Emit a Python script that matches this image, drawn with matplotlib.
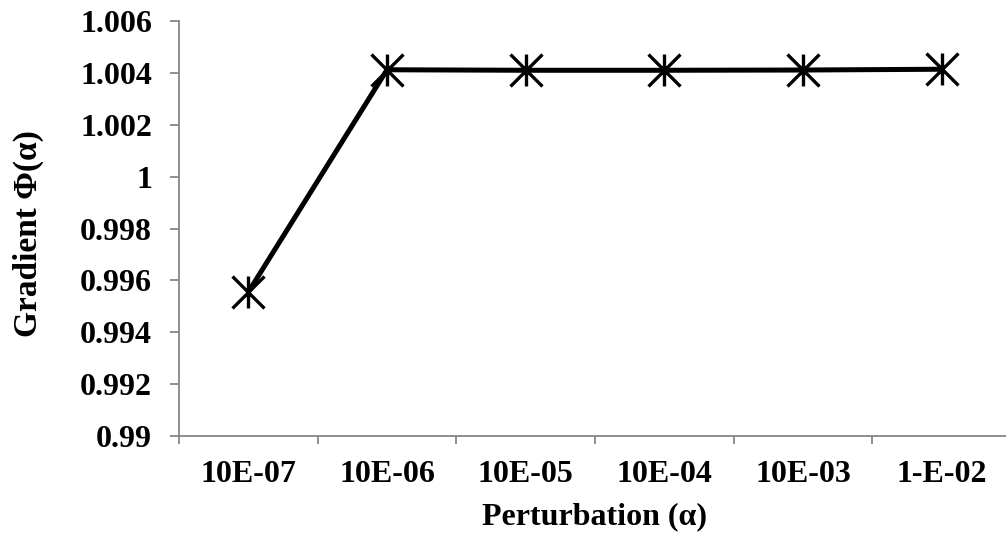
import matplotlib
matplotlib.use("Agg")
import matplotlib.pyplot as plt
from matplotlib.path import Path
from matplotlib.ticker import FixedLocator

# data
categories = ["10E-07", "10E-06", "10E-05", "10E-04", "10E-03", "1-E-02"]
gradient = [0.99555, 1.00412, 1.00410, 1.00410, 1.00411, 1.00414]
y_ticks = [0.99, 0.992, 0.994, 0.996, 0.998, 1.0, 1.002, 1.004, 1.006]
y_tick_labels = ["0.99", "0.992", "0.994", "0.996", "0.998", "1", "1.002", "1.004", "1.006"]

plt.rcParams['font.family'] = ['Liberation Serif', 'DejaVu Serif']
plt.rcParams['font.weight'] = 'bold'

# Excel style star marker: an X with a vertical bar through it
star = Path([(-1, -1), (1, 1), (-1, 1), (1, -1), (0, -1), (0, 1)],
            [Path.MOVETO, Path.LINETO, Path.MOVETO, Path.LINETO, Path.MOVETO, Path.LINETO])

fig = plt.figure(figsize=(10.06, 5.35), dpi=100)
ax = fig.add_axes([179 / 1006, 1 - 436 / 535, 832 / 1006, 415 / 535])

x = list(range(len(categories)))
ax.plot(x, gradient, color='black', linewidth=3.6, marker=star,
        markersize=23, markeredgewidth=2.4, markeredgecolor='black',
        markerfacecolor='none', solid_capstyle='butt', clip_on=False)

ax.set_xlim(-0.5, len(categories) - 0.5)
ax.set_ylim(0.99, 1.006)

ax.set_yticks(y_ticks)
ax.set_yticklabels(y_tick_labels)
ax.set_xticks(x)
ax.set_xticklabels(categories)
ax.xaxis.set_minor_locator(FixedLocator([i - 0.5 for i in range(len(categories) + 1)]))

gray = '#868686'
for side in ['top', 'right']:
    ax.spines[side].set_visible(False)
for side in ['left', 'bottom']:
    ax.spines[side].set_color(gray)
    ax.spines[side].set_linewidth(1.3)

ax.tick_params(axis='y', which='major', length=6.5, width=1.3, color=gray,
               pad=13, labelsize=23)
ax.tick_params(axis='x', which='major', length=0, pad=17, labelsize=23)
ax.tick_params(axis='x', which='minor', length=6, width=1.3, color=gray, direction='out')

ax.set_xlabel("Perturbation (α)", fontsize=23, fontweight='bold', va='center')
ax.xaxis.set_label_coords(0.5, -(517 - 436) / 415)
ax.set_ylabel("Gradient Φ(α)", fontsize=24, fontweight='bold', va='center')
ax.yaxis.set_label_coords((28 - 179) / 832, (436 - 234) / 415)

fig.savefig("out.png", dpi=100)
